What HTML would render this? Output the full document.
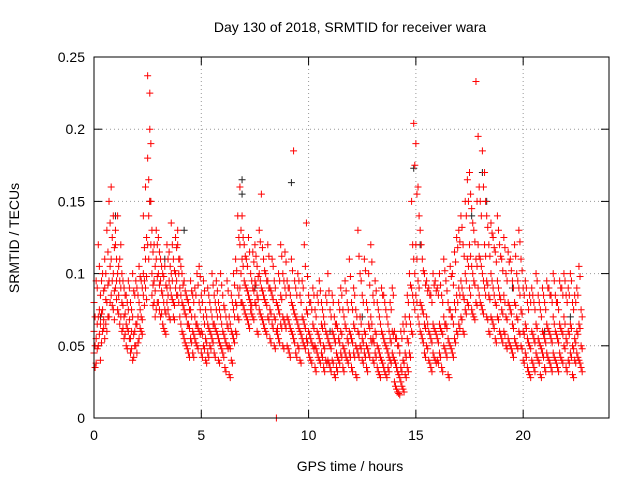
<!DOCTYPE html>
<html><head><meta charset="utf-8"><style>
body{margin:0;background:#fff}
svg text{font-family:"Liberation Sans",sans-serif;font-size:14px;fill:#000}
</style></head><body>
<svg id="c" width="640" height="480" xmlns="http://www.w3.org/2000/svg">
<text x="350" y="32" text-anchor="middle">Day 130 of 2018, SRMTID for receiver wara</text>
<text x="350" y="471" text-anchor="middle">GPS time / hours</text>
<text transform="translate(19,238) rotate(-90)" text-anchor="middle">SRMTID / TECUs</text>
<g id="grid"></g>
<g id="ticks"></g>
<g id="black"></g>
<g id="red"></g>
<rect x="94" y="57" width="515" height="361" fill="none" stroke="#000" stroke-width="1"/>
</svg>
<script>
const xTicks=[0,5,10,15,20];
const yTicks=[0,0.05,0.1,0.15,0.2,0.25];
const yTickLabels=["0","0.05","0.1","0.15","0.2","0.25"];
const redStep=0.1;
const redHours=[
"60 45 80 55 38 95 70 50 120 65 85 40 60 100 75 90 55 110 130 80 60 150 95 70 160 110 85 140 100 75",
"120 90 130 100 75 140 95 110 65 80 60 100 70 55 90 65 85 50 75 60 95 55 45 80 70 40 100 60 85 50",
"65 90 45 80 55 105 70 60 95 85 100 140 110 90 160 237 180 120 225 200 150 130 100 85 120 95 80 110 75 130",
"100 80 125 95 70 110 85 65 100 75 105 60 90 120 80 95 70 115 85 135 100 80 110 70 100 125 90 120 85 130",
"90 70 110 80 60 100 75 55 95 70 85 50 65 80 45 75 55 95 60 85 45 70 90 55 65 100 50 80 60 105",
"60 45 85 70 50 95 55 75 40 65 90 45 60 80 50 70 55 100 65 85 45 75 60 95 55 80 40 70 100 50",
"60 85 45 55 75 35 65 95 50 50 30 70 60 85 40 75 100 55 80 60 110 90 70 140 160 120 90 110 80 140",
"95 75 120 90 70 110 85 65 125 100 80 75 90 115 70 95 80 120 85 60 105 100 75 130 90 70 155 85 110 65",
"80 60 100 95 70 120 75 55 90 85 65 110 70 50 95 0 80 60 75 100 55 85 65 120 70 50 100 90 65 115",
"70 50 95 65 45 90 80 60 110 75 185 55 70 90 45 65 50 100 60 85 40 70 55 95 65 120 50 75 55 135",
"60 45 85 55 40 80 65 50 90 50 35 75 60 45 85 55 40 95 65 45 80 50 35 70 60 40 85 55 100 40",
"50 35 75 60 40 85 55 30 70 45 65 35 55 80 40 60 45 90 50 35 75 65 45 95 55 40 80 60 110 45",
"55 35 80 65 45 90 50 30 75 60 130 45 70 50 100 55 40 85 60 45 110 50 35 80 65 45 100 70 55 120",
"55 40 85 60 45 95 50 35 80 45 30 70 60 40 90 55 35 85 50 30 75 45 65 35 55 40 80 60 45 90",
"40 25 60 35 20 55 30 17 50 35 25 60 40 20 65 45 30 70 55 35 85 70 45 100 90 60 150 204 110 80",
"120 85 190 95 70 160 80 60 130 75 55 110 65 45 100 70 50 95 60 40 90 55 35 85 65 45 100 60 40 95",
"55 40 90 65 45 100 60 35 85 70 50 110 65 45 95 55 30 80 75 50 105 70 45 100 80 55 115 85 60 125",
"90 65 130 95 70 140 85 60 120 100 75 150 110 80 165 120 90 170 105 75 145 95 70 130 233 110 80 195 120 90",
"110 80 150 100 75 185 120 90 170 95 70 140 85 60 120 100 70 135 90 65 125 80 55 115 95 70 140 85 60 120",
"75 55 110 85 60 125 70 50 100 80 55 115 75 50 110 65 45 95 80 55 120 70 50 100 90 60 130 75 50 110",
"60 40 90 65 45 95 55 35 80 50 30 85 60 40 90 55 35 80 65 45 100 55 40 85 50 30 75 60 45 90",
"55 35 80 65 45 95 60 40 90 55 35 85 70 45 100 60 40 85 55 35 80 65 45 95 60 40 90 70 50 100",
"55 35 85 60 40 90 65 45 100 50 30 80 55 40 85 60 45 90 65 40 105 50 35 75"];
const redHours2=[
"50 70 35 65 90 48 75 58 105 72 52 95 68 88 62 82 65 100 115 92 70 135 105 80 125 95 78 118 88 68",
"110 82 95 105 85 72 90 70 120 78 62 95 72 58 85 62 80 48 68 55 90 60 48 75 58 42 88 65 50 95",
"70 52 85 75 62 98 68 58 90 95 78 118 125 98 82 165 140 110 190 150 120 115 92 78 105 88 70 98 80 120",
"92 75 115 88 72 105 80 62 98 72 92 58 85 110 75 90 68 105 82 120 95 78 102 68 95 118 85 110 80 100",
"85 65 105 78 58 92 72 52 88 65 82 48 62 75 42 70 52 88 58 80 42 65 85 52 62 92 48 75 58 98",
"58 42 80 65 48 88 52 70 38 62 85 42 58 75 48 65 52 92 62 80 42 70 58 88 52 75 38 65 92 48",
"58 78 42 52 70 32 62 88 48 48 28 65 58 80 38 70 92 52 78 58 102 85 68 125 130 100 80 105 78 125",
"92 72 112 88 68 105 82 62 115 95 78 72 88 108 68 92 78 112 82 58 98 95 72 122 88 68 118 82 102 62",
"78 58 95 90 68 112 72 52 88 82 62 105 68 48 90 62 78 58 72 95 52 82 62 112 68 48 95 85 62 108",
"68 48 90 62 42 85 78 58 102 72 95 52 68 85 42 62 48 95 58 80 38 68 52 90 62 105 48 72 52 98",
"58 42 80 52 38 75 62 48 85 48 32 70 58 42 80 52 38 88 62 42 75 48 32 65 58 38 80 52 88 38",
"48 32 70 58 38 80 52 28 65 42 62 32 52 75 38 58 42 85 48 32 70 62 42 88 52 38 75 58 98 42",
"52 32 75 62 42 85 48 28 70 58 112 42 65 48 95 52 38 80 58 42 102 48 32 75 62 42 92 65 52 108",
"52 38 80 58 42 88 48 32 75 42 28 65 58 38 85 52 32 80 48 28 70 42 60 32 52 38 75 58 42 85",
"38 22 55 32 18 50 28 16 45 32 22 55 38 18 60 42 28 65 52 32 80 65 42 92 85 58 120 175 100 75",
"110 80 155 90 65 140 78 58 120 72 52 102 62 42 92 65 48 88 58 38 85 52 32 80 62 42 92 58 38 88",
"52 38 85 62 42 92 58 32 80 65 48 102 62 42 88 52 28 75 70 48 98 65 42 92 75 52 108 80 58 118",
"85 62 122 90 68 132 82 58 112 95 72 140 105 78 150 112 85 155 100 72 135 92 68 122 150 105 78 160 112 85",
"105 78 140 95 72 160 112 85 150 92 68 132 82 58 112 95 68 128 85 62 118 78 52 108 90 68 130 82 58 112",
"72 52 102 80 58 118 68 48 95 78 52 108 72 48 102 62 42 90 78 52 112 68 48 95 85 58 122 72 48 102",
"58 38 85 62 42 90 52 32 75 48 28 80 58 38 85 52 32 75 62 42 95 52 38 80 48 28 70 58 42 85",
"52 32 75 62 42 90 58 38 85 52 32 80 65 42 95 58 38 80 52 32 75 62 42 90 58 38 85 65 48 95",
"52 32 80 58 38 85 62 42 95 48 28 75 52 38 80 58 42 85 62 38 98 48 32 70"];
const blackTimes=[0.3,1.0,1.4,2.6,3.3,4.2,6.9,6.9,7.5,9.2,11.0,12.5,14.9,15.2,17.6,18.1,18.3,19.5,21.0,22.2];
const blackValues=[0.07,0.14,0.09,0.15,0.11,0.13,0.165,0.155,0.09,0.163,0.06,0.07,0.173,0.12,0.14,0.17,0.15,0.09,0.06,0.07];

const X0=94,X1=609,Y0=418,Y1=57,XMAX=24,YMAX=0.25;
const sx=v=>X0+(X1-X0)*v/XMAX, sy=v=>Y0-(Y0-Y1)*v/YMAX;
const NS="http://www.w3.org/2000/svg";
function mk(t,a,p){const e=document.createElementNS(NS,t);for(const k in a)e.setAttribute(k,a[k]);p.appendChild(e);return e;}
const grid=document.getElementById('grid'),ticks=document.getElementById('ticks');
xTicks.forEach(t=>{const x=sx(t);
 if(t>0){const g=mk('line',{x1:x,x2:x,y1:Y0,y2:Y1,stroke:'#999','stroke-dasharray':'1,3'},grid);
 }
 mk('line',{x1:x,x2:x,y1:Y0,y2:Y0-8,stroke:'#000'},ticks);mk('line',{x1:x,x2:x,y1:Y1,y2:Y1+8,stroke:'#000'},ticks);
 const l=mk('text',{x:x,y:Y0+22,'text-anchor':'middle'},ticks);l.textContent=t;
 });
yTicks.forEach((t,i)=>{const y=sy(t);
 if(i>0&&i<yTicks.length-1){const g=mk('line',{x1:X0,x2:X1,y1:y,y2:y,stroke:'#999','stroke-dasharray':'1,3'},grid);
 }
 mk('line',{x1:X0,x2:X0+8,y1:y,y2:y,stroke:'#000'},ticks);mk('line',{x1:X1,x2:X1-8,y1:y,y2:y,stroke:'#000'},ticks);
 const l=mk('text',{x:X0-9,y:y+5,'text-anchor':'end'},ticks);l.textContent=yTickLabels[i];
 });
function plus(g,t,v,col){const x=sx(t),y=sy(v);
 const p=mk('path',{d:`M${x-3.5},${y}h7M${x},${y-3.5}v7`,stroke:col,'stroke-width':1,fill:'none'},g);
 }
const bg=document.getElementById('black');
blackTimes.forEach((t,i)=>plus(bg,t,blackValues[i],'#222'));
const rg=document.getElementById('red');
function drawRed(rows,offset){rows.forEach((s,h)=>{const v=s.trim().split(/\s+/).map(Number);
 v.forEach((val,j)=>{const t=h+offset+Math.floor(j/3)*redStep;plus(rg,t,val/1000,'#f00');});});}
drawRed(redHours,0);
drawRed(redHours2,redStep/2);
</script>
</body></html>
